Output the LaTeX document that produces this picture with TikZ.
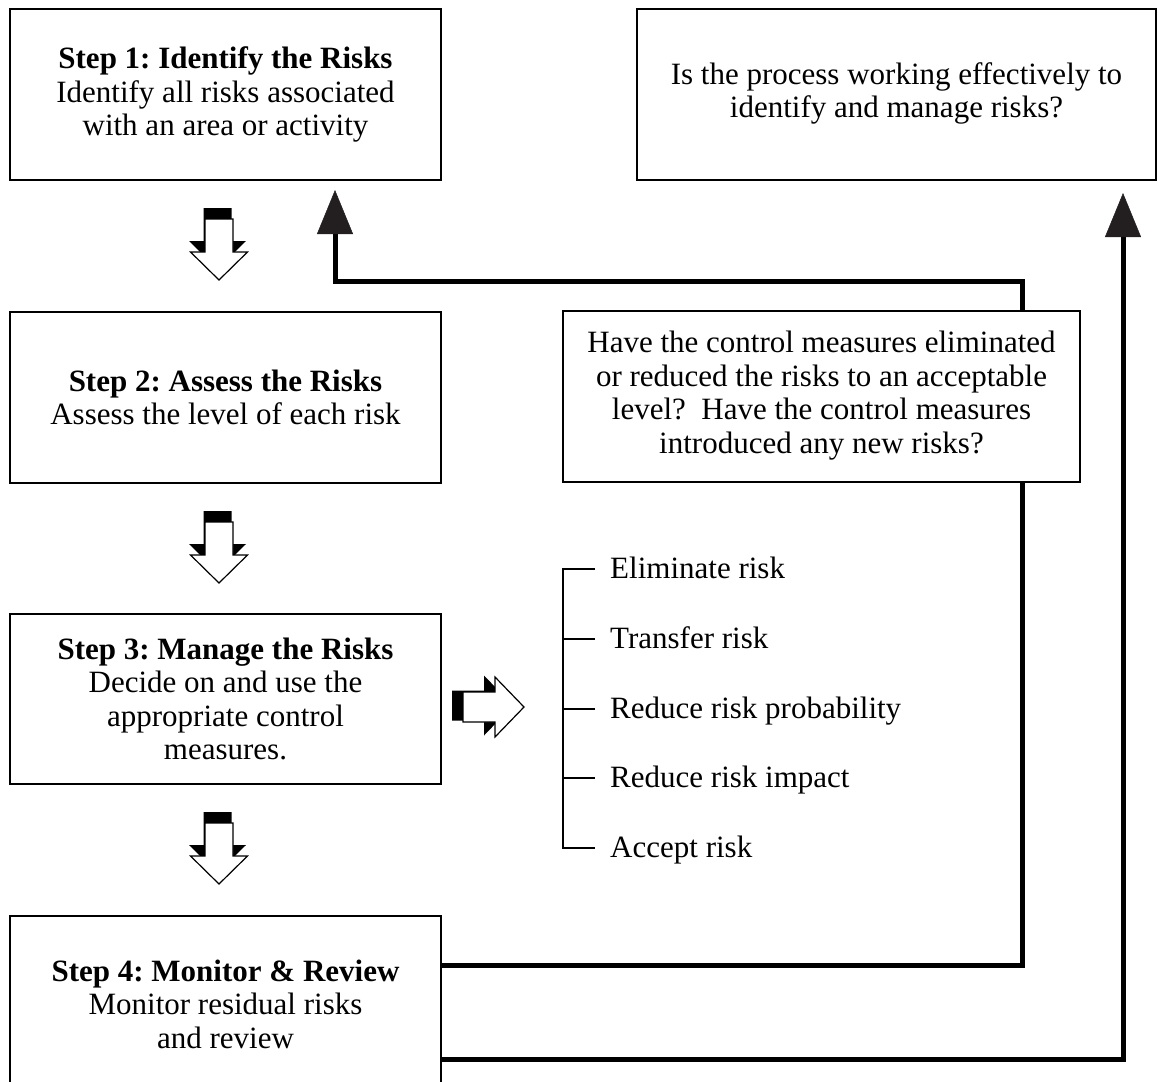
\documentclass[tikz,border=0pt]{standalone}
\usepackage{fontspec}
\setmainfont{Liberation Serif}
\usetikzlibrary{arrows.meta}
\definecolor{tipc}{HTML}{231F20}
\begin{document}
\frenchspacing
\begin{tikzpicture}[x=1pt,y=-1pt,
  box/.style={draw,line width=2pt,rectangle,align=center,inner sep=0pt,
    font=\fontsize{31}{33.5}\selectfont},
  stepbox/.style={box,minimum width=431pt},
  conn/.style={line width=5pt},
  headtip/.style={-{Triangle[length=44pt,width=36pt,line width=0.5pt,color=tipc]}},
  item/.style={anchor=west,inner xsep=15pt,inner ysep=0pt,text height=22pt,text depth=4pt,
    font=\fontsize{31}{32}\selectfont},
  brk/.style={line width=2pt},
  downblk/.pic={
    \fill[black] (-15.5,-11) -- (12.5,-11) -- (12.5,22) -- (27,22) -- (-1.5,50) -- (-30,22) -- (-15.5,22) -- cycle;
    \draw[fill=white,line width=1.2pt] (-14,0) -- (14,0) -- (14,33) -- (28.5,33) -- (0,61) -- (-28.5,33) -- (-14,33) -- cycle;
  },
  rightblk/.pic={
    \fill[black] (-11,-16.5) -- (21,-16.5) -- (21,-31.5) -- (50,-1.5) -- (21,28.5) -- (21,13.5) -- (-11,13.5) -- cycle;
    \draw[fill=white,line width=1.2pt] (0,-15) -- (32,-15) -- (32,-30) -- (61,0) -- (32,30) -- (32,15) -- (0,15) -- cycle;
  }]
\useasboundingbox (0,0) rectangle (1158,1081);

% boxes
\node[stepbox,minimum height=171pt] (s1) at (225.5,94.5)
  {\textbf{Step 1: Identify the Risks}\\Identify all risks associated\\with an area or activity};
\node[stepbox,minimum height=171pt] (s2) at (225.5,397.5)
  {\textbf{Step 2: Assess the Risks}\\Assess the level of each risk};
\node[stepbox,minimum height=170pt] (s3) at (225.5,699)
  {\textbf{Step 3: Manage the Risks}\\Decide on and use the\\appropriate control\\measures.};
\node[stepbox,minimum height=176pt] (s4) at (225.5,1004)
  {\textbf{Step 4: Monitor \& Review}\\Monitor residual risks\\and review};
\node[box,minimum width=519pt,minimum height=171pt] (tr) at (896.5,94.5)
  {\raisebox{3pt}{\begin{tabular}{@{}c@{}}Is the process working effectively to\\identify and manage risks?\end{tabular}}};
\node[box,minimum width=517pt,minimum height=171pt] (mid) at (821.5,396.5)
  {\raisebox{7pt}{\begin{tabular}{@{}c@{}}Have the control measures eliminated\\or reduced the risks to an acceptable\\level?\ \ Have the control measures\\introduced any new risks?\end{tabular}}};

% block arrows
\pic at (219,219) {downblk};
\pic at (219,522) {downblk};
\pic at (219,823) {downblk};
\pic at (463,707) {rightblk};

% list of options
\node[item] (l1) at (595,569) {Eliminate risk};
\node[item] (l2) at (595,639) {Transfer risk};
\node[item] (l3) at (595,709) {Reduce risk probability};
\node[item] (l4) at (595,778) {Reduce risk impact};
\node[item] (l5) at (595,848) {Accept risk};
\coordinate (bx) at (563,700);
\draw[brk] (l1.west) -- (l1.west -| bx) -- (l5.west -| bx) -- (l5.west);
\draw[brk] (l2.west) -- (l2.west -| bx);
\draw[brk] (l3.west) -- (l3.west -| bx);
\draw[brk] (l4.west) -- (l4.west -| bx);

% feedback connectors
\coordinate (j1) at (1022,965);
\coordinate (j2) at (1022,281);
\coordinate (j3) at (335,281);
\coordinate (k1) at (1123,1059);
\draw[conn] (s4.east |- j1) -- (j1) -- (mid.south -| j1);
\draw[conn,headtip,shorten >=9pt] (mid.north -| j2) -- (j2) -- (j3) -- (s1.south -| j3);
\draw[conn,headtip,shorten >=12pt] (s4.east |- k1) -- (k1) -- (tr.south -| k1);
\end{tikzpicture}
\end{document}
